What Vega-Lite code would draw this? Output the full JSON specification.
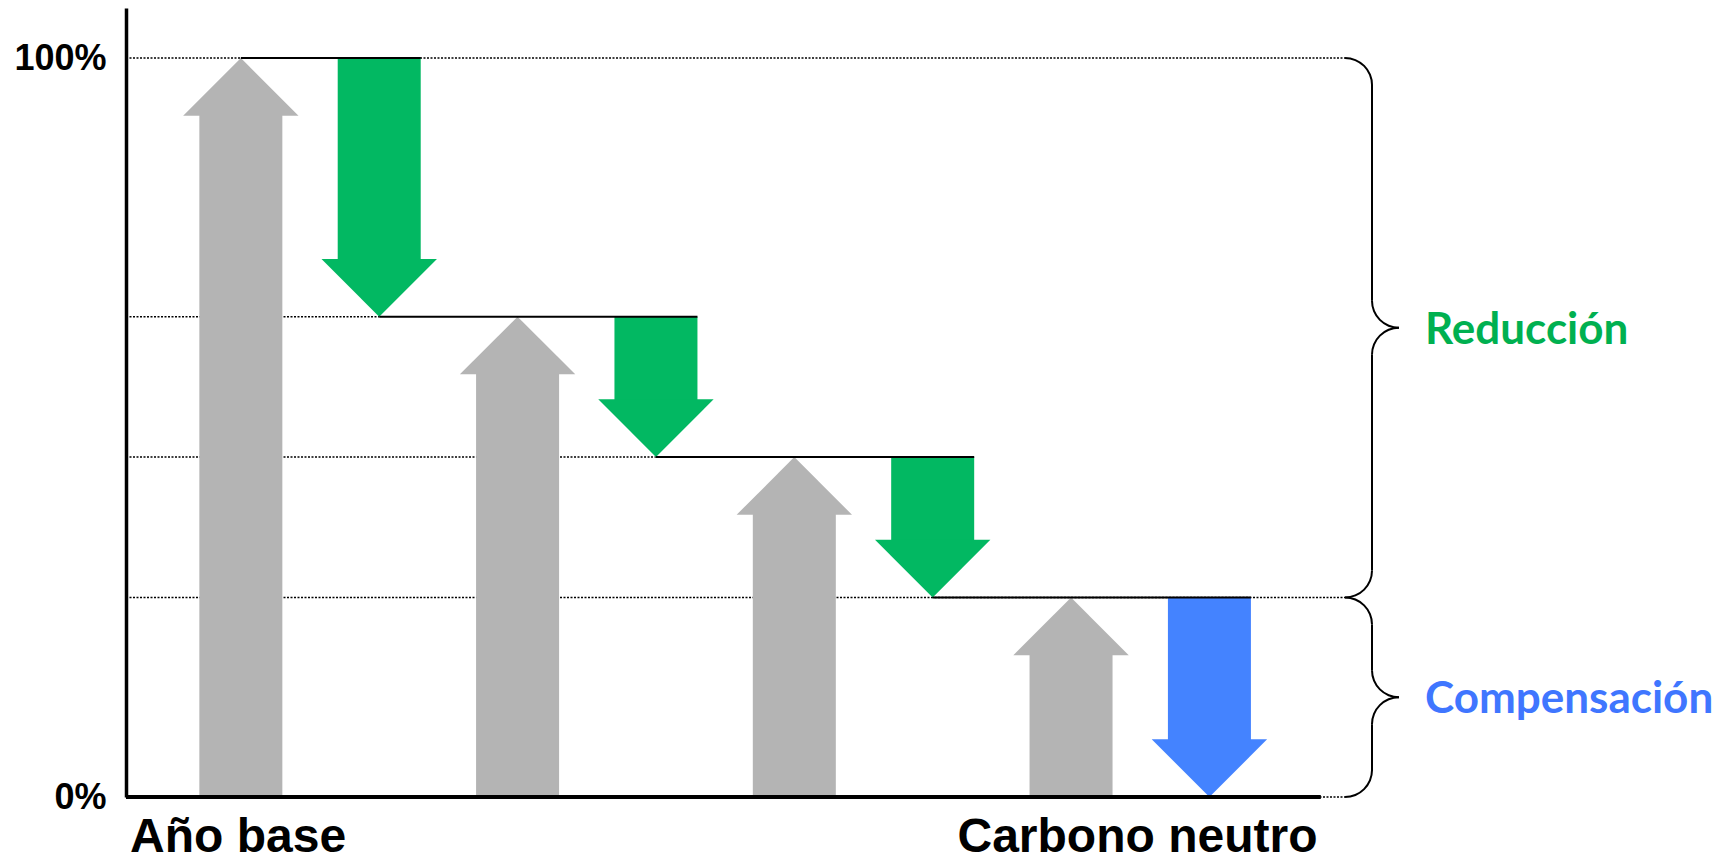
{
  "$schema": "https://vega.github.io/schema/vega-lite/v6.json",
  "width": 1594,
  "height": 789,
  "autosize": {"type": "none"},
  "padding": {"left": 126, "top": 8, "right": 5, "bottom": 65},
  "background": "white",
  "config": {"view": {"stroke": null}, "font": "Liberation Sans"},
  "datasets": {
    "flechas": [
      {"paso": 1, "tipo": "Emisiones", "desde": 0, "hasta": 100},
      {"paso": 2, "tipo": "Reducción", "desde": 100, "hasta": 65},
      {"paso": 3, "tipo": "Emisiones", "desde": 0, "hasta": 65},
      {"paso": 4, "tipo": "Reducción", "desde": 65, "hasta": 46},
      {"paso": 5, "tipo": "Emisiones", "desde": 0, "hasta": 46},
      {"paso": 6, "tipo": "Reducción", "desde": 46, "hasta": 27},
      {"paso": 7, "tipo": "Emisiones", "desde": 0, "hasta": 27},
      {"paso": 8, "tipo": "Compensación", "desde": 27, "hasta": 0}
    ],
    "guias": [
      {"nivel": 100, "x0": 0.17, "x1": 8.98},
      {"nivel": 65, "x0": 0.17, "x1": 2},
      {"nivel": 46, "x0": 0.17, "x1": 4},
      {"nivel": 27, "x0": 0.17, "x1": 8.98},
      {"nivel": 0, "x0": 0.17, "x1": 8.98}
    ],
    "tramos": [
      {"nivel": 100, "x0": 1, "x1": 2.3},
      {"nivel": 65, "x0": 2, "x1": 4.3},
      {"nivel": 46, "x0": 4, "x1": 6.3},
      {"nivel": 27, "x0": 6, "x1": 8.3}
    ],
    "base": [{"nivel": 0, "x0": 0.17, "x1": 8.805}],
    "llave_rectas": [
      {"llave": "Reducción", "x": 9.175, "y0": 96.35, "y1": 67.15},
      {"llave": "Reducción", "x": 9.175, "y0": 59.85, "y1": 30.65},
      {"llave": "Compensación", "x": 9.175, "y0": 23.35, "y1": 17.15},
      {"llave": "Compensación", "x": 9.175, "y0": 9.85, "y1": 3.65}
    ],
    "llave_curvas": [
      {"llave": "Reducción", "esquina": "inicio", "x": 8.98, "y": 96.35},
      {"llave": "Reducción", "esquina": "pico_sup", "x": 9.37, "y": 67.15},
      {"llave": "Reducción", "esquina": "pico_inf", "x": 9.37, "y": 59.85},
      {"llave": "Reducción", "esquina": "fin", "x": 8.98, "y": 30.65},
      {"llave": "Compensación", "esquina": "inicio", "x": 8.98, "y": 23.35},
      {"llave": "Compensación", "esquina": "pico_sup", "x": 9.37, "y": 17.15},
      {"llave": "Compensación", "esquina": "pico_inf", "x": 9.37, "y": 9.85},
      {"llave": "Compensación", "esquina": "fin", "x": 8.98, "y": 3.65}
    ],
    "etapas": [
      {"x": 9.37, "y": 63.5, "texto": "Reducción"},
      {"x": 9.37, "y": 13.5, "texto": "Compensación"}
    ],
    "extremos": [
      {"x": 0.98, "texto": "Año base"},
      {"x": 7.48, "texto": "Carbono neutro"}
    ]
  },
  "encoding": {
    "x": {"type": "quantitative", "scale": {"domain": [0.17, 11.69], "nice": false, "zero": false, "padding": 0}, "axis": null}
  },
  "layer": [
    {
      "data": {"name": "guias"},
      "mark": {"type": "rule", "color": "black", "strokeWidth": 1.5, "strokeDash": [2, 1.5]},
      "encoding": {
        "x": {"field": "x0", "type": "quantitative"},
        "x2": {"field": "x1"},
        "y": {
          "field": "nivel",
          "type": "quantitative",
          "scale": {"domain": [0, 106.77], "nice": false, "padding": 0},
          "axis": {
            "values": [0, 100],
            "labelExpr": "datum.value + '%'",
            "title": null,
            "grid": false,
            "ticks": false,
            "tickSize": 0,
            "labelPadding": 20,
            "labelFont": "Liberation Sans",
            "labelFontWeight": "bold",
            "labelFontSize": 36,
            "labelColor": "black",
            "domainColor": "black",
            "domainWidth": 3.5
          }
        }
      }
    },
    {
      "data": {"name": "flechas"},
      "transform": [{"filter": "datum.tipo === 'Emisiones'"}],
      "mark": {"type": "bar", "width": 83, "yOffset": 56},
      "encoding": {
        "x": {"field": "paso", "type": "quantitative"},
        "y": {"field": "hasta", "type": "quantitative"},
        "y2": {"field": "desde"},
        "fill": {"field": "tipo", "type": "nominal", "legend": null,
          "scale": {"domain": ["Emisiones", "Reducción", "Compensación"], "range": ["#B4B4B4", "#02B862", "#4483FF"]}}
      }
    },
    {
      "data": {"name": "flechas"},
      "transform": [{"filter": "datum.tipo === 'Emisiones'"}],
      "mark": {"type": "point", "shape": "M-1,1L0,0L1,1Z", "size": 13317, "filled": true, "opacity": 1, "strokeWidth": 0},
      "encoding": {
        "x": {"field": "paso", "type": "quantitative"},
        "y": {"field": "hasta", "type": "quantitative"},
        "fill": {"field": "tipo", "type": "nominal", "legend": null}
      }
    },
    {
      "data": {"name": "flechas"},
      "transform": [{"filter": "datum.tipo !== 'Emisiones'"}],
      "mark": {"type": "bar", "width": 83, "yOffset": -56},
      "encoding": {
        "x": {"field": "paso", "type": "quantitative"},
        "y": {"field": "hasta", "type": "quantitative"},
        "y2": {"field": "desde"},
        "fill": {"field": "tipo", "type": "nominal", "legend": null}
      }
    },
    {
      "data": {"name": "flechas"},
      "transform": [{"filter": "datum.tipo !== 'Emisiones'"}],
      "mark": {"type": "point", "shape": "M-1,-1L0,0L1,-1Z", "size": 13317, "filled": true, "opacity": 1, "strokeWidth": 0},
      "encoding": {
        "x": {"field": "paso", "type": "quantitative"},
        "y": {"field": "hasta", "type": "quantitative"},
        "fill": {"field": "tipo", "type": "nominal", "legend": null}
      }
    },
    {
      "data": {"name": "tramos"},
      "mark": {"type": "rule", "color": "black", "strokeWidth": 2},
      "encoding": {
        "x": {"field": "x0", "type": "quantitative"},
        "x2": {"field": "x1"},
        "y": {"field": "nivel", "type": "quantitative"}
      }
    },
    {
      "data": {"name": "base"},
      "mark": {"type": "rule", "color": "black", "strokeWidth": 4},
      "encoding": {
        "x": {"field": "x0", "type": "quantitative"},
        "x2": {"field": "x1"},
        "y": {"field": "nivel", "type": "quantitative"}
      }
    },
    {
      "data": {"name": "llave_rectas"},
      "mark": {"type": "rule", "color": "black", "strokeWidth": 2},
      "encoding": {
        "x": {"field": "x", "type": "quantitative"},
        "y": {"field": "y0", "type": "quantitative"},
        "y2": {"field": "y1"}
      }
    },
    {
      "data": {"name": "llave_curvas"},
      "transform": [{"filter": "datum.esquina === 'inicio'"}],
      "mark": {"type": "arc", "radius": 28, "radius2": 26, "theta": 0, "theta2": 1.5708, "color": "black"},
      "encoding": {
        "x": {"field": "x", "type": "quantitative"},
        "y": {"field": "y", "type": "quantitative"}
      }
    },
    {
      "data": {"name": "llave_curvas"},
      "transform": [{"filter": "datum.esquina === 'pico_sup'"}],
      "mark": {"type": "arc", "radius": 28, "radius2": 26, "theta": 3.1416, "theta2": 4.7124, "color": "black"},
      "encoding": {
        "x": {"field": "x", "type": "quantitative"},
        "y": {"field": "y", "type": "quantitative"}
      }
    },
    {
      "data": {"name": "llave_curvas"},
      "transform": [{"filter": "datum.esquina === 'pico_inf'"}],
      "mark": {"type": "arc", "radius": 28, "radius2": 26, "theta": 4.7124, "theta2": 6.2832, "color": "black"},
      "encoding": {
        "x": {"field": "x", "type": "quantitative"},
        "y": {"field": "y", "type": "quantitative"}
      }
    },
    {
      "data": {"name": "llave_curvas"},
      "transform": [{"filter": "datum.esquina === 'fin'"}],
      "mark": {"type": "arc", "radius": 28, "radius2": 26, "theta": 1.5708, "theta2": 3.1416, "color": "black"},
      "encoding": {
        "x": {"field": "x", "type": "quantitative"},
        "y": {"field": "y", "type": "quantitative"}
      }
    },
    {
      "data": {"name": "etapas"},
      "mark": {"type": "text", "align": "left", "baseline": "alphabetic", "dx": 26, "dy": 16, "font": "Lato", "fontWeight": "bold", "fontSize": 44},
      "encoding": {
        "x": {"field": "x", "type": "quantitative"},
        "y": {"field": "y", "type": "quantitative"},
        "text": {"field": "texto"},
        "color": {"field": "texto", "type": "nominal", "legend": null,
          "scale": {"domain": ["Reducción", "Compensación"], "range": ["#00B050", "#3F76FF"]}}
      }
    },
    {
      "data": {"name": "extremos"},
      "mark": {"type": "text", "align": "center", "baseline": "alphabetic", "dy": 55, "font": "Liberation Sans", "fontWeight": "bold", "fontSize": 48, "color": "black"},
      "encoding": {
        "x": {"field": "x", "type": "quantitative"},
        "y": {"datum": 0, "type": "quantitative"},
        "text": {"field": "texto"}
      }
    }
  ]
}
